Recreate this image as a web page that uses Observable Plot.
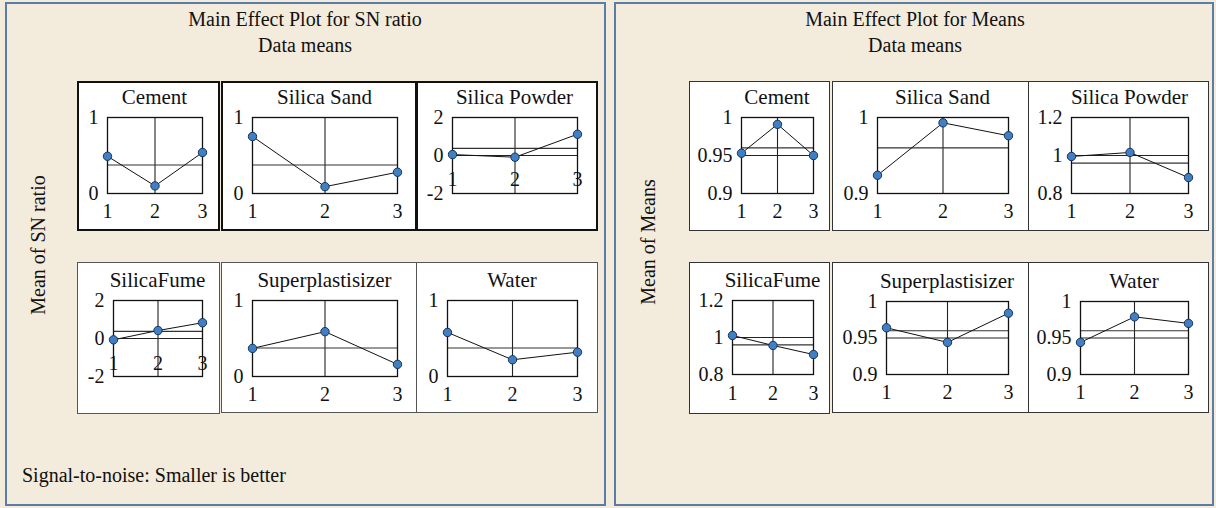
<!DOCTYPE html>
<html><head><meta charset="utf-8">
<script src="https://cdn.jsdelivr.net/npm/d3@7"></script>
<script src="https://cdn.jsdelivr.net/npm/@observablehq/plot@0.6"></script>
<style>
html,body{margin:0;padding:0;background:#f3ebdc;}
#root{position:relative;width:1216px;height:508px;background:#f3ebdc;font-family:"Liberation Serif","Times New Roman",serif;color:#111;overflow:hidden;}
.panel{position:absolute;box-sizing:border-box;border:2px solid #5b7ea6;}
.cell{position:absolute;box-sizing:border-box;background:#fff;}
.txt{position:absolute;font-size:20px;line-height:20px;white-space:nowrap;}
svg text{font-family:"Liberation Serif","Times New Roman",serif;font-weight:normal;}
</style></head><body><div id="root"></div>
<script>
// ---- data ----
const factors = ["Cement", "Silica Sand", "Silica Powder", "SilicaFume", "Superplastisizer", "Water"];
const levels = [1, 2, 3];
const snValues = [
  [0.49, 0.10, 0.54],
  [0.75, 0.09, 0.28],
  [0.05, -0.09, 1.12],
  [-0.07, 0.42, 0.83],
  [0.37, 0.59, 0.16],
  [0.58, 0.22, 0.32]
];
const meanValues = [
  [0.953, 0.991, 0.950],
  [0.924, 0.993, 0.976],
  [0.995, 1.016, 0.884],
  [1.011, 0.957, 0.908],
  [0.964, 0.944, 0.984],
  [0.944, 0.979, 0.970]
];
const snTicks = [[0, 1], [0, 1], [-2, 0, 2], [-2, 0, 2], [0, 1], [0, 1]];
const meanTicks = [[0.9, 0.95, 1], [0.9, 1], [0.8, 1, 1.2], [0.8, 1, 1.2], [0.9, 0.95, 1], [0.9, 0.95, 1]];
const snGrandMean = [0.375];
const meanGrandMean = [0.96];

// ---- layout (page pixels) ----
const snLayout = [
  {cell: [77, 81, 143, 150], frame: [107, 117, 202, 193], xPad: 10},
  {cell: [221, 81, 196, 150], frame: [252, 117, 397, 193], xPad: 10},
  {cell: [416, 81, 182, 150], frame: [452, 117, 577, 193], xPad: -22},
  {cell: [77, 262, 143, 152], frame: [113, 300, 202, 376], xPad: -21},
  {cell: [221, 262, 196, 151], frame: [252, 300, 397, 376], xPad: 10},
  {cell: [416, 262, 182, 151], frame: [447, 300, 577, 376], xPad: 10}
];
const meansLayout = [
  {cell: [689, 81, 141, 150], frame: [741, 117, 813, 193], xPad: 10},
  {cell: [832, 81, 197, 150], frame: [877, 117, 1008, 193], xPad: 10},
  {cell: [1028, 81, 181, 150], frame: [1071, 117, 1188, 193], xPad: 10},
  {cell: [689, 262, 141, 152], frame: [732, 300, 813, 374], xPad: 11},
  {cell: [832, 262, 197, 151], frame: [886, 301, 1008, 374], xPad: 10},
  {cell: [1028, 262, 181, 151], frame: [1080, 301, 1188, 374], xPad: 10}
];

const root = document.getElementById("root");
function box(cls, l, t, w, h, extra) {
  const d = document.createElement("div");
  d.className = cls;
  Object.assign(d.style, {left: l + "px", top: t + "px", width: w + "px", height: h + "px"}, extra || {});
  root.append(d);
  return d;
}
function txt(s, l, t, extra) {
  const d = document.createElement("div");
  d.className = "txt";
  d.textContent = s;
  Object.assign(d.style, {left: l + "px", top: t + "px"}, extra || {});
  root.append(d);
  return d;
}

box("panel", 5, 2, 601, 504);
box("panel", 614, 2, 600, 504);

txt("Main Effect Plot for SN ratio", 305, 9, {transform: "translateX(-50%)"});
txt("Data means", 305, 35, {transform: "translateX(-50%)"});
txt("Main Effect Plot for Means", 915, 9, {transform: "translateX(-50%)"});
txt("Data means", 915, 35, {transform: "translateX(-50%)"});
txt("Mean of SN ratio", 38, 245, {transform: "translate(-50%,-50%) rotate(-90deg)"});
txt("Mean of Means", 648, 242, {transform: "translate(-50%,-50%) rotate(-90deg)"});
txt("Signal-to-noise: Smaller is better", 22, 465);

const serif = "'Liberation Serif', 'Times New Roman', serif";
function subplot(lay, name, values, ticks, grand, border) {
  const [cx, cy, cw, ch] = lay.cell;
  const [fx0, fy0, fx1, fy1] = lay.frame;
  box("cell", cx, cy, cw, ch, {border: border});
  const data = levels.map((l, i) => ({level: l, value: values[i]}));
  const inner = ticks.slice(1, -1);
  const svg = Plot.plot({
    width: cw, height: ch,
    marginLeft: fx0 - cx, marginRight: cx + cw - fx1,
    marginTop: fy0 - cy, marginBottom: cy + ch - fy1,
    style: {fontFamily: serif, fontSize: "20px", background: "transparent", overflow: "visible", color: "#111"},
    x: {domain: [1, 3], label: null},
    y: {domain: d3.extent(ticks), label: null},
    marks: [
      Plot.ruleX([2], {stroke: "#222", strokeWidth: 1.1}),
      Plot.ruleY(inner, {stroke: "#222", strokeWidth: 1.1}),
      Plot.ruleY(grand, {stroke: "#333", strokeWidth: 1.1}),
      Plot.frame({stroke: "#111", strokeWidth: 1.3}),
      Plot.axisX({ticks: levels, tickSize: 0, tickPadding: lay.xPad, tickFormat: d => String(d), fontSize: 20, fill: "#111"}),
      Plot.axisY({ticks: ticks, tickSize: 0, tickPadding: 9, tickFormat: d => String(d), fontSize: 20, fill: "#111"}),
      Plot.line(data, {x: "level", y: "value", stroke: "#111", strokeWidth: 1}),
      Plot.dot(data, {x: "level", y: "value", r: 4.2, fill: "#3f7fc6", stroke: "#1b3358", strokeWidth: 1})
    ]
  });
  Object.assign(svg.style, {position: "absolute", left: cx + "px", top: cy + "px"});
  root.append(svg);
  txt(name, (fx0 + fx1) / 2, fy0 - 30, {transform: "translateX(-50%)", fontSize: "21px"});
}

factors.forEach((f, i) => {
  subplot(snLayout[i], f, snValues[i], snTicks[i], snGrandMean, i < 3 ? "2px solid #111" : "1.5px solid #555");
  subplot(meansLayout[i], f, meanValues[i], meanTicks[i], meanGrandMean, "1.5px solid #333");
});
</script>
</body></html>
